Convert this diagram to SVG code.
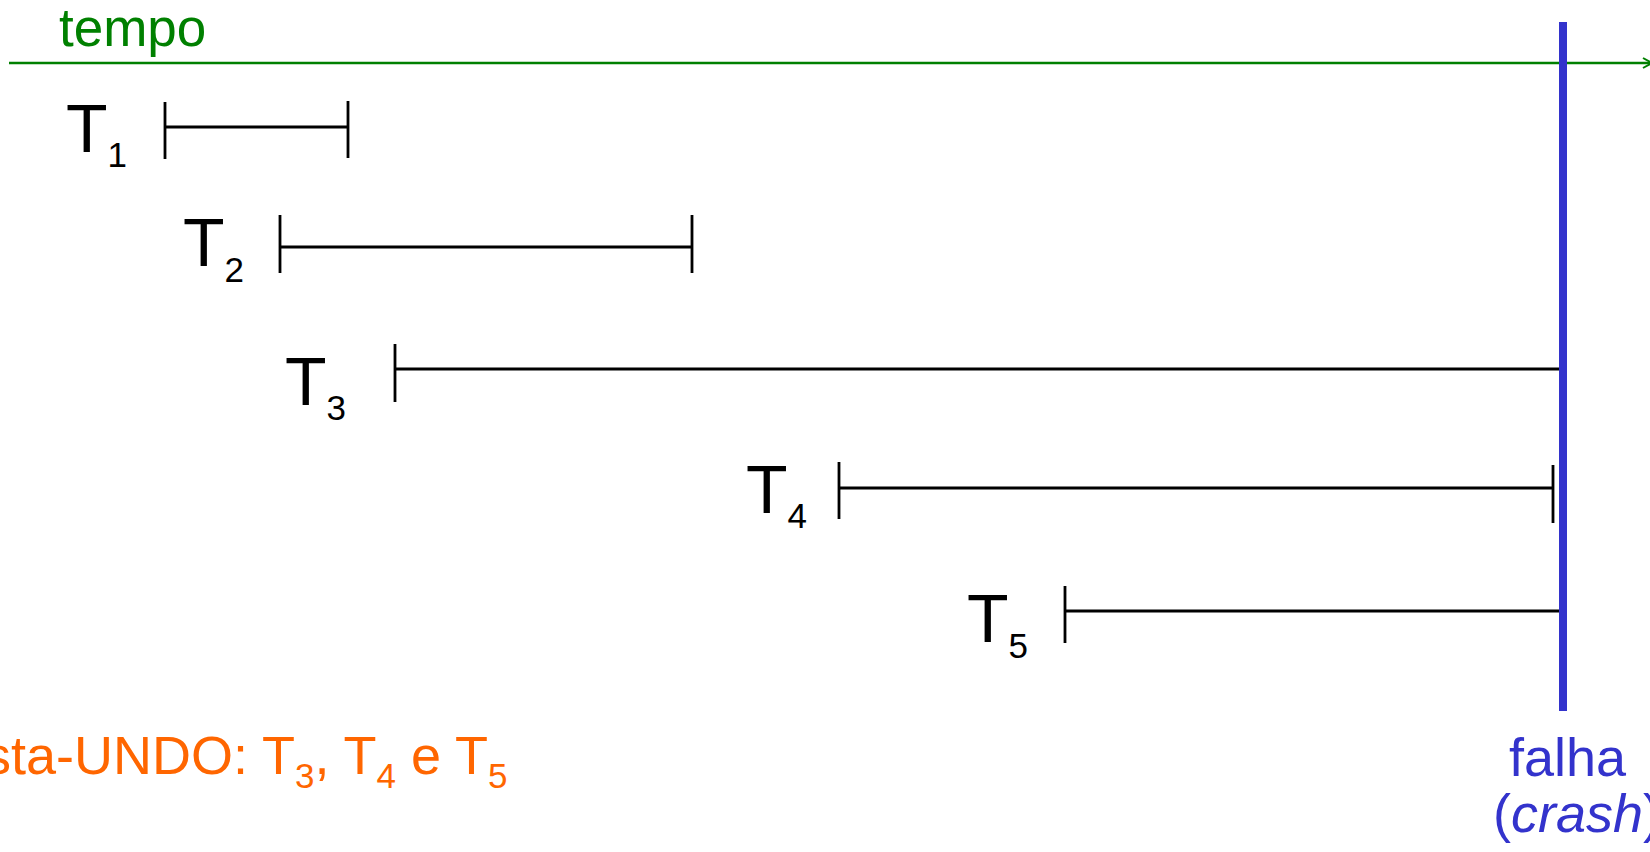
<svg xmlns="http://www.w3.org/2000/svg" width="1650" height="852" viewBox="0 0 1650 852">
<style>
.lbl{font-family:"Liberation Sans",Arial,Helvetica,sans-serif;fill:#000;font-size:68px}
.sub{font-size:35px}
.tl{stroke:#000;stroke-width:2.8;fill:none}
.orange{font-family:"Liberation Sans",Arial,Helvetica,sans-serif;fill:#FF6600;font-size:54px}
.blue{font-family:"Liberation Sans",Arial,Helvetica,sans-serif;fill:#3333CC;font-size:54px}
</style>
<defs>
<marker id="arr" markerWidth="12" markerHeight="12" refX="10" refY="6" orient="auto" markerUnits="userSpaceOnUse">
<path d="M1,1 L10,6 L1,11" fill="none" stroke="#008000" stroke-width="2"/>
</marker>
</defs>
<rect width="1650" height="852" fill="#fff"/>
<g id="tempo">
<text x="59" y="46" font-family="Liberation Sans, Arial, sans-serif" font-size="53" fill="#008000">tempo</text>
</g>
<g id="connectors">
<line x1="9" y1="63" x2="1652" y2="63" stroke="#008000" stroke-width="2.4" marker-end="url(#arr)"/>
<path class="tl" d="M165,102 V159 M165,127 H348 M348,101 V158"/>
<path class="tl" d="M280,215 V273 M280,247 H692 M692,215 V273"/>
<path class="tl" d="M395,344 V402 M395,369 H1559"/>
<path class="tl" d="M839,462 V519 M839,488 H1553 M1553,465 V523"/>
<path class="tl" d="M1065,586 V643 M1065,611 H1559"/>
</g>
<g id="falha-bar">
<rect x="1559" y="22" width="8" height="689" fill="#3333CC"/>
</g>
<g id="T1"><text class="lbl" x="66" y="152">T<tspan class="sub" dy="15">1</tspan></text></g>
<g id="T2"><text class="lbl" x="183" y="266">T<tspan class="sub" dy="16">2</tspan></text></g>
<g id="T3"><text class="lbl" x="285" y="405">T<tspan class="sub" dy="15">3</tspan></text></g>
<g id="T4"><text class="lbl" x="746" y="513">T<tspan class="sub" dy="15">4</tspan></text></g>
<g id="T5"><text class="lbl" x="967" y="642">T<tspan class="sub" dy="16">5</tspan></text></g>
<g id="lista-undo">
<text class="orange" x="-58" y="774">Lista-UNDO: T<tspan class="sub" dy="14">3</tspan><tspan dy="-14">, T</tspan><tspan class="sub" dy="14">4</tspan><tspan dy="-14"> e T</tspan><tspan class="sub" dy="14">5</tspan></text>
</g>
<g id="falha-label">
<text class="blue" x="1509" y="776">falha</text>
<text class="blue" x="1493" y="832">(<tspan font-style="italic">crash</tspan>)</text>
</g>
</svg>
